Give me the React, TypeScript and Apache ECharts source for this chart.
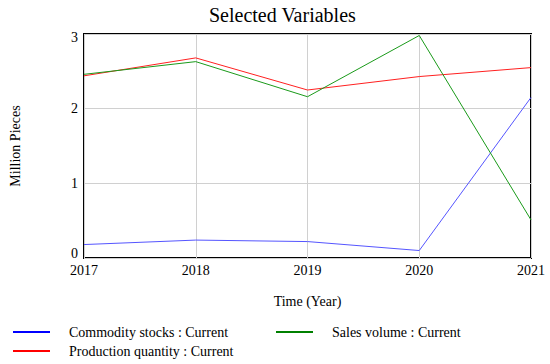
import React, { useEffect, useRef } from "react";
import * as echarts from "echarts";

const years = ["2017", "2018", "2019", "2020", "2021"];
const commodityStocks = [0.18, 0.24, 0.22, 0.1, 2.15];
const productionQuantity = [2.44, 2.68, 2.25, 2.43, 2.55];
const salesVolume = [2.46, 2.63, 2.16, 2.98, 0.51];

const FONT = "'Liberation Serif', 'Times New Roman', serif";
const txt = (size: number) => ({
  fontFamily: FONT,
  fontSize: size,
  fontWeight: "normal" as const,
  fontStyle: "normal" as const,
  color: "#000",
});

export default function App() {
  const ref = useRef<HTMLDivElement>(null);
  useEffect(() => {
    const chart = echarts.init(ref.current!, undefined, { renderer: "svg" });
    const legendCommon = {
      orient: "horizontal",
      itemWidth: 37,
      itemHeight: 2,
      icon: "rect",
      textStyle: { ...txt(14), padding: [0, 0, 0, 14] },
    };
    chart.setOption({
      animation: false,
      backgroundColor: "#fff",
      textStyle: txt(14),
      title: {
        text: "Selected Variables",
        left: 204,
        top: 0,
        textStyle: txt(20),
      },
      grid: {
        left: 84,
        right: 19,
        top: 34,
        bottom: 106,
        show: true,
        borderColor: "#000",
        borderWidth: 2,
      },
      legend: [
        { ...legendCommon, left: 8, top: 320, data: [{ name: "Commodity stocks : Current" }] },
        { ...legendCommon, left: 271, top: 320, data: [{ name: "Sales volume : Current" }] },
        { ...legendCommon, left: 8, top: 339, data: [{ name: "Production quantity : Current" }] },
      ],
      xAxis: {
        type: "category",
        data: years,
        boundaryGap: false,
        name: "Time (Year)",
        nameLocation: "middle",
        nameGap: 36,
        nameTextStyle: txt(14),
        axisLine: { show: false },
        axisTick: { show: false },
        axisLabel: { ...txt(14), margin: 5 },
        splitLine: { show: true, lineStyle: { color: "#d0d0d0", width: 1 } },
      },
      yAxis: {
        type: "value",
        min: 0,
        max: 3,
        interval: 1,
        name: "Million Pieces",
        nameLocation: "middle",
        nameGap: 62,
        nameTextStyle: txt(14),
        axisLine: { show: false },
        axisTick: { show: false },
        axisLabel: {
          ...txt(14),
          margin: 6,
          formatter: (v: number) => (v === 0 ? `{low|${v}}` : v === 3 ? `{high|${v}}` : `{mid|${v}}`),
          rich: {
            low: { ...txt(14), padding: [0, 0, 9, 0] },
            high: { ...txt(14), padding: [6, 0, 0, 0] },
            mid: { ...txt(14) },
          },
        },
        splitLine: { show: true, lineStyle: { color: "#d0d0d0", width: 1 } },
      },
      series: [
        {
          name: "Commodity stocks : Current",
          type: "line",
          data: commodityStocks,
          symbol: "none",
          color: "#0000ff",
          lineStyle: { width: 1, color: "#5555ff" },
        },
        {
          name: "Production quantity : Current",
          type: "line",
          data: productionQuantity,
          symbol: "none",
          color: "#ff0000",
          lineStyle: { width: 1, color: "#ff2020" },
        },
        {
          name: "Sales volume : Current",
          type: "line",
          data: salesVolume,
          symbol: "none",
          color: "#008000",
          lineStyle: { width: 1, color: "#1a9a1a" },
        },
      ],
    });
    return () => chart.dispose();
  }, []);
  return <div ref={ref} style={{ width: 550, height: 364, position: "absolute", left: 0, top: 0 }} />;
}
